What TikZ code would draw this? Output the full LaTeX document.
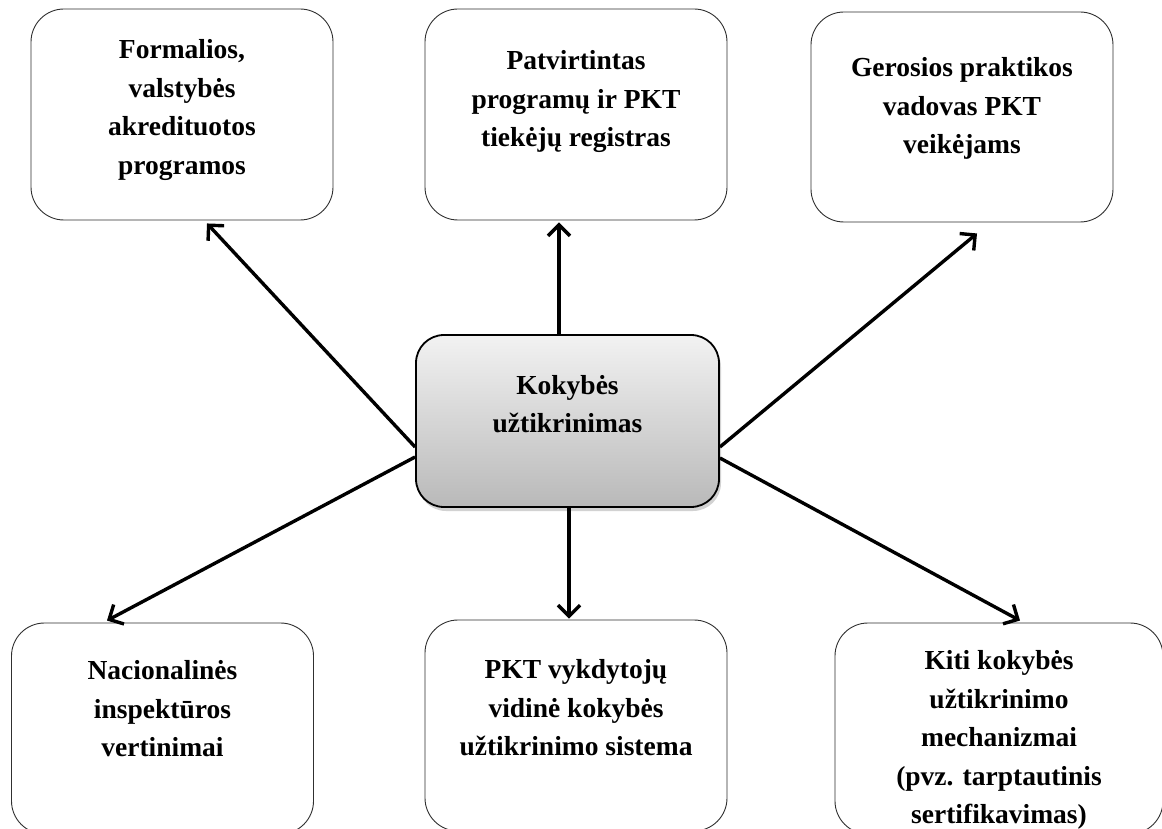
\documentclass[tikz,border=0pt]{standalone}
\usepackage{fontspec}
\setmainfont{Liberation Serif}
\usepackage{tikz}
\usetikzlibrary{arrows.meta, shadows}
\definecolor{boxline}{HTML}{303030}
\definecolor{kokytop}{HTML}{F2F2F2}
\definecolor{kokybot}{HTML}{B9B9B9}

\tikzset{
  sritis/.style={draw=boxline, line width=0.9pt, rounded corners=33pt, minimum width=302pt, minimum height=211pt},
  tekstas/.style={anchor=north, inner sep=0pt, align=center, font=\fontsize{27.5}{38.5}\selectfont\bfseries},
  rodykle/.style={line width=3.4pt, -{Straight Barb[length=11pt,width=22pt,line width=3.4pt]}}
}

\begin{document}
\begin{tikzpicture}[x=1pt, y=-1pt]
            \useasboundingbox (0,0) rectangle (1162,829);
            \clip (0,0) rectangle (1162,829);
            \fill[white] (0,0) rectangle (1162,829);

            % centras
            \node[draw=black, line width=1.8pt, rounded corners=28pt, minimum width=303pt, minimum height=172pt,
                  top color=kokytop, bottom color=kokybot,
                  drop shadow={opacity=0.35, shadow xshift=2pt, shadow yshift=-4pt}] (kok) at (567.5,421) {};
            \node[tekstas] (kokt) at ([yshift=-41pt]kok.north) {Kokybės\\užtikrinimas};

            % virsutine eile
            \node[sritis] (form) at (182,114.5) {};
            \node[tekstas] (formt) at ([yshift=-31pt]form.north) {Formalios,\\valstybės\\akredituotos\\programos};
            \node[sritis] (reg) at (576,114.5) {};
            \node[tekstas] (regt) at ([yshift=-42pt]reg.north) {Patvirtintas\\programų ir PKT\\tiekėjų registras};
            \node[sritis, minimum height=210pt] (ger) at (962,117) {};
            \node[tekstas] (gert) at ([yshift=-46pt]ger.north) {Gerosios praktikos\\vadovas PKT\\veikėjams};

            % apatine eile
            \node[sritis] (nac) at (162.5,728.5) {};
            \node[tekstas] (nact) at ([yshift=-38pt]nac.north) {Nacionalinės\\inspektūros\\vertinimai};
            \node[sritis] (vid) at (576,725.5) {};
            \node[tekstas] (vidt) at ([yshift=-40pt]vid.north) {PKT vykdytojų\\vidinė kokybės\\užtikrinimo sistema};
            \node[sritis, minimum width=328pt] (kiti) at (999,728.5) {};
            \node[tekstas] (kitit) at ([yshift=-28pt]kiti.north) {Kiti kokybės\\užtikrinimo\\mechanizmai\\ (pvz. tarptautinis\\sertifikavimas)};

            % rodykles
            \draw[rodykle] ([yshift=-26pt]kok.west) -- ([xshift=25pt,yshift=-3pt]form.south);
            \draw[rodykle] ([xshift=-8.5pt]kok.north) -- ([xshift=-17pt,yshift=-2pt]reg.south);
            \draw[rodykle] ([yshift=-26pt]kok.east) -- ([xshift=15pt,yshift=-11pt]ger.south);
            \draw[rodykle] ([yshift=-36pt]kok.west) -- ([xshift=-55.5pt,yshift=2pt]nac.north);
            \draw[rodykle] ([xshift=1.5pt]kok.south) -- ([xshift=-7pt,yshift=1pt]vid.north);
            \draw[rodykle] ([yshift=-37pt]kok.east) -- ([xshift=21pt,yshift=2pt]kiti.north);
\end{tikzpicture}
\end{document}
